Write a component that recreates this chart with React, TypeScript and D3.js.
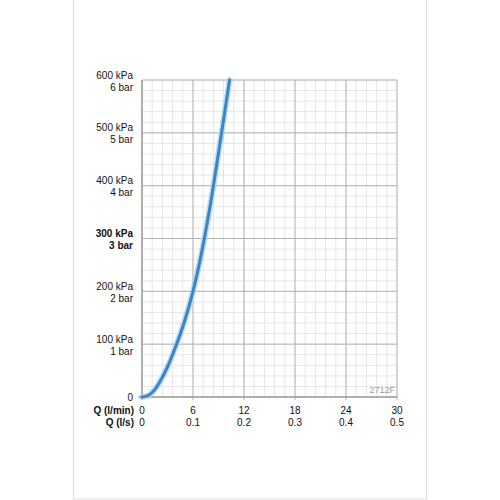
import React from "react";
import * as d3 from "d3";

const flowLpm = [0, 0.5, 1, 1.5, 2, 3, 4, 5, 6, 7, 8, 9, 10, 10.3];
const pressureKpa = [0, 1.5, 6, 14, 26, 57, 97, 143, 200, 272, 360, 462, 568, 600];
const yTicks = [0, 100, 200, 300, 400, 500, 600];
const yKpaLabels = ["0", "100 kPa", "200 kPa", "300 kPa", "400 kPa", "500 kPa", "600 kPa"];
const yBarLabels = ["", "1 bar", "2 bar", "3 bar", "4 bar", "5 bar", "6 bar"];
const xTicks = [0, 6, 12, 18, 24, 30];
const xLpsLabels = ["0", "0.1", "0.2", "0.3", "0.4", "0.5"];
const codeLabel = "2712F";

export default function App() {
  const W = 500, H = 500;
  const left = 142, right = 397, top = 80, bottom = 397;
  const x = d3.scaleLinear().domain([0, 30]).range([left, right]);
  const y = d3.scaleLinear().domain([0, 600]).range([bottom, top]);
  const minorX = d3.range(0, 30.001, 1.2);
  const minorY = d3.range(0, 600.001, 20);
  const pts = flowLpm.map((q, i) => [q, pressureKpa[i]] as [number, number]);
  const line = d3
    .line<[number, number]>()
    .x((d) => x(d[0]))
    .y((d) => y(d[1]))
    .curve(d3.curveCatmullRom.alpha(0.5));
  const path = line(pts) || "";
  const font = "'Liberation Sans', Arial, Helvetica, sans-serif";

  return (
    <svg width={W} height={H} style={{ position: "absolute", left: 0, top: 0, background: "#fff" }} fontFamily={font}>
      <rect x={73.5} y={-1} width={353} height={500} fill="#fff" stroke="#dcdcdc" strokeWidth={1} />
      {minorX.map((v, i) => (
        <line key={"mx" + i} x1={x(v)} x2={x(v)} y1={top} y2={bottom} stroke="#e6e6e6" strokeWidth={1} />
      ))}
      {minorY.map((v, i) => (
        <line key={"my" + i} x1={left} x2={right} y1={y(v)} y2={y(v)} stroke="#e6e6e6" strokeWidth={1} />
      ))}
      {xTicks.map((v, i) => (
        <line key={"Mx" + i} x1={x(v)} x2={x(v)} y1={top} y2={bottom + 3} stroke="#b4b4b4" strokeWidth={1} />
      ))}
      {yTicks.map((v, i) => (
        <line key={"My" + i} x1={left} x2={right} y1={y(v)} y2={y(v)} stroke="#b4b4b4" strokeWidth={1} />
      ))}
      <line x1={left} x2={left} y1={top} y2={bottom} stroke="#8a8a8a" strokeWidth={1} />
      <line x1={left - 4} x2={right} y1={bottom} y2={bottom} stroke="#8a8a8a" strokeWidth={1} />
      <text x={right - 2} y={bottom - 4} fontSize={9} fill="#9a9a9a" textAnchor="end">{codeLabel}</text>
      <path d={path} fill="none" stroke="#a9cdec" strokeWidth={6} strokeLinecap="round" opacity={0.7} />
      <path d={path} fill="none" stroke="#3886c9" strokeWidth={3} strokeLinecap="round" />
      {yTicks.map((v, i) => {
        const bold = v === 300;
        if (v === 0) {
          return (
            <text key={"yl" + i} x={133} y={y(v) + 3.5} fontSize={10} textAnchor="end" fill="#111">{yKpaLabels[i]}</text>
          );
        }
        return (
          <g key={"yl" + i} fontWeight={bold ? "bold" : "normal"} fill="#111" fontSize={10}>
            <text x={133} y={y(v) - 1.5} textAnchor="end">{yKpaLabels[i]}</text>
            <text x={133} y={y(v) + 10.5} textAnchor="end">{yBarLabels[i]}</text>
          </g>
        );
      })}
      <text x={134} y={414} fontSize={10} fontWeight="bold" textAnchor="end" fill="#111">Q (l/min)</text>
      <text x={134} y={426} fontSize={10} fontWeight="bold" textAnchor="end" fill="#111">Q (l/s)</text>
      {xTicks.map((v, i) => (
        <g key={"xl" + i} fontSize={10} fill="#111" textAnchor="middle">
          <text x={x(v)} y={414}>{String(v)}</text>
          <text x={x(v)} y={426}>{xLpsLabels[i]}</text>
        </g>
      ))}
    </svg>
  );
}
